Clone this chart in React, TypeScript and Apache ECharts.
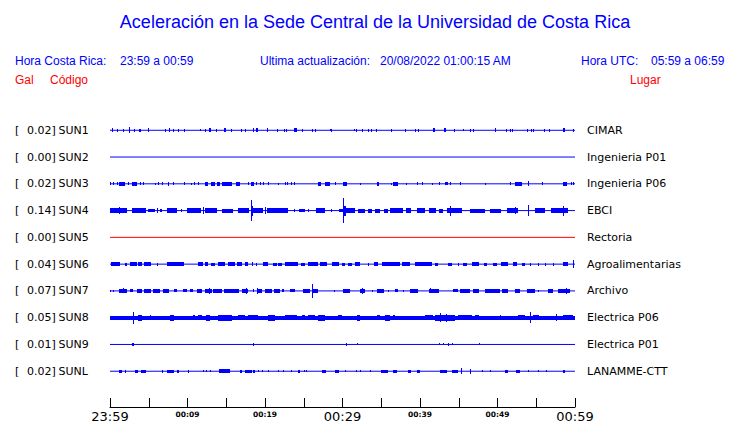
import React, { useEffect, useRef } from 'react';
import * as echarts from 'echarts';

// ---------- data ----------
const STATIONS = ['SUN1', 'SUN2', 'SUN3', 'SUN4', 'SUN5', 'SUN6', 'SUN7', 'SUN8', 'SUN9', 'SUNL'];
const PEAKS = ['0.02', '0.00', '0.02', '0.14', '0.00', '0.04', '0.07', '0.05', '0.01', '0.02'];
const PLACES = ['CIMAR', 'Ingenieria P01', 'Ingenieria P06', 'EBCI', 'Rectoria', 'Agroalimentarias', 'Archivo', 'Electrica P06', 'Electrica P01', 'LANAMME-CTT'];
const TRACE_COLORS = ['#0000ff', '#0000ff', '#0000ff', '#0000ff', '#ff0000', '#0000ff', '#0000ff', '#0000ff', '#0000ff', '#0000ff'];

const TICK_MINUTES = [0, 10, 20, 30, 40, 50, 60];
const TICK_LABELS = ['23:59', '00:09', '00:19', '00:29', '00:39', '00:49', '00:59'];
const MAJOR_TICKS = [0, 30, 60];

// events per station: [start minute, end minute, half amplitude (gal)]
const SUN1_EVENTS = [[0.2,0.4,.015],[0.9,1.0,.012],[1.7,1.8,.01],[2.4,2.5,.028],[3.1,3.2,.012],[3.8,3.95,.012],[4.9,5.05,.015],[7.05,7.15,.012],[7.6,7.75,.015],[8.1,8.25,.012],[8.75,8.9,.012],[9.55,9.65,.012],[11.65,11.75,.008],[12.2,12.3,.012],[12.8,13.05,.015],[13.7,13.8,.012],[14.75,14.95,.015],[15.65,15.75,.01],[16.95,17.05,.01],[17.45,17.55,.01],[18.45,18.55,.015],[18.9,19.1,.015],[20.2,20.45,.017],[21.55,21.65,.012],[22.45,22.55,.012],[22.75,22.85,.012],[23.8,24.15,.017],[24.8,24.9,.012],[26.05,26.15,.012],[26.5,26.6,.012],[28.35,28.45,.008],[28.55,28.65,.012],[31.45,31.55,.008],[31.75,31.85,.012],[32.5,32.6,.012],[33.3,33.4,.012],[33.7,33.8,.012],[34.35,34.45,.012],[36.25,36.35,.01],[38.1,38.2,.012],[39.35,39.45,.012],[39.75,39.85,.012],[41.7,41.95,.017],[43.1,43.3,.017],[44.45,44.55,.012],[45.55,45.65,.008],[46.4,46.55,.012],[46.85,46.95,.01],[49.65,49.8,.015],[51.15,51.25,.012],[51.55,51.65,.012],[51.85,51.95,.012],[53.85,53.95,.012],[54.35,54.45,.01],[54.55,54.7,.012],[55.95,56.05,.012],[56.65,56.75,.012],[58.5,58.7,.015],[59.75,59.85,.012]];
const SUN2_EVENTS: number[][] = [];
const SUN3_EVENTS = [[0.05,0.15,.012],[0.45,0.55,.012],[0.85,0.9,.01],[1.15,1.95,.015],[2.35,2.4,.012],[2.8,3.45,.015],[3.85,3.95,.012],[4.25,4.35,.012],[5.8,5.85,.008],[6.2,6.3,.01],[6.65,6.7,.01],[7.45,7.65,.015],[8.15,8.2,.01],[9.55,9.6,.01],[10.45,10.5,.008],[10.85,10.95,.01],[11.3,11.35,.01],[12.25,12.6,.015],[13.05,13.55,.015],[13.8,14.2,.015],[14.4,15.7,.015],[16.3,16.8,.015],[17.75,17.8,.01],[18.25,18.6,.02],[18.9,19.0,.01],[19.35,19.4,.01],[19.75,19.8,.01],[20.35,20.4,.01],[21.7,21.75,.008],[22.55,22.65,.01],[22.8,22.85,.01],[23.3,23.45,.012],[23.75,23.85,.01],[26.9,27.25,.015],[27.75,28.4,.015],[29.05,29.1,.01],[30.1,30.55,.015],[32.25,32.3,.008],[34.4,34.75,.015],[36.25,36.3,.008],[36.55,37.15,.015],[38.25,38.3,.008],[39.6,39.65,.01],[40.2,40.3,.01],[41.5,41.55,.008],[42.5,42.6,.01],[43.25,43.55,.012],[43.85,43.9,.01],[45.15,45.2,.01],[48.4,48.45,.008],[51.6,51.7,.01],[52.25,53.1,.015],[53.95,54.05,.022],[55.7,55.75,.01],[58.5,58.95,.015],[59.45,59.55,.012],[59.75,59.85,.012]];
const SUN4_EVENTS = [[0,2.25,.019],[1.15,1.2,.03],[2.8,4.7,.019],[4.95,5.8,.015],[6.1,6.2,.02],[6.4,6.7,.015],[7.3,8.6,.019],[9.2,9.3,.012],[9.9,11.8,.019],[12.0,12.1,.035],[12.3,13.8,.019],[14.5,15.9,.017],[16.5,17.9,.019],[18.25,18.35,.11],[18.35,18.5,.05],[18.5,19.8,.019],[20.0,20.1,.03],[20.2,23.0,.019],[23.7,23.8,.015],[24.4,25.1,.015],[25.5,25.6,.012],[26.6,27.75,.019],[28.5,28.6,.015],[29.5,30.0,.015],[30.1,30.2,.13],[30.2,30.4,.05],[30.4,31.6,.019],[32.05,32.9,.017],[33.35,33.8,.017],[34.2,34.85,.017],[35.3,35.9,.017],[36.1,37.8,.019],[38.2,38.9,.019],[39.6,40.6,.019],[41.2,42.0,.019],[42.4,43.0,.017],[43.5,45.4,.019],[43.85,43.95,.05],[46.45,48.4,.017],[49.0,50.5,.017],[51.2,52.7,.019],[52.3,52.4,.03],[53.95,54.05,.06],[54.85,56.1,.019],[56.95,59.1,.019],[58.5,58.6,.05]];
const SUN5_EVENTS: number[][] = [];
const SUN6_EVENTS = [[0.1,1.3,.015],[1.95,2.15,.012],[2.6,3.45,.015],[3.65,4.1,.015],[4.4,5.25,.015],[6.0,6.1,.01],[7.3,9.5,.015],[11.3,12.05,.015],[12.25,12.7,.015],[13.05,13.55,.012],[13.95,14.85,.015],[15.25,16.15,.015],[16.35,17.0,.015],[17.4,17.85,.015],[18.3,18.5,.015],[18.9,19.0,.01],[19.8,20.45,.015],[21.05,21.5,.012],[21.7,22.15,.012],[22.6,24.3,.015],[24.7,25.1,.012],[25.6,26.9,.015],[27.1,28.0,.015],[28.6,29.5,.015],[29.9,30.35,.012],[30.75,31.2,.012],[31.6,32.3,.015],[33.3,33.4,.012],[34.1,34.6,.015],[35.05,37.45,.015],[37.65,38.7,.015],[39.35,41.5,.015],[41.95,42.3,.012],[43.65,44.1,.012],[44.95,45.0,.01],[45.6,46.0,.012],[46.7,47.55,.015],[48.2,48.6,.012],[49.45,49.9,.012],[50.5,51.4,.015],[52.05,52.5,.015],[53.1,53.55,.012],[54.2,54.25,.01],[55.25,55.3,.01],[56.1,56.15,.01],[57.2,57.25,.01],[58.5,59.15,.015],[59.75,59.85,.037]];
const SUN7_EVENTS = [[0.05,0.15,.01],[0.4,0.5,.01],[1.1,2.15,.015],[1.65,1.75,.022],[2.6,3.0,.012],[3.45,4.1,.015],[4.45,5.25,.015],[5.6,6.45,.015],[6.9,7.55,.015],[8.2,8.6,.012],[9.45,9.9,.012],[10.3,10.75,.012],[11.2,11.85,.015],[12.3,13.1,.017],[12.8,12.9,.025],[13.3,14.4,.015],[14.65,16.6,.015],[17.0,17.85,.017],[17.5,17.6,.025],[18.5,18.55,.012],[18.95,19.6,.017],[19.0,19.1,.025],[20.0,20.9,.015],[21.1,21.95,.015],[22.15,22.5,.012],[23.25,23.9,.012],[24.95,25.8,.015],[26.05,26.15,.072],[26.2,26.9,.017],[28.95,29.0,.01],[30.1,30.95,.015],[32.25,32.9,.02],[32.5,32.6,.025],[33.75,33.8,.01],[34.4,35.3,.015],[35.9,35.95,.01],[36.75,37.2,.012],[37.85,37.9,.01],[38.7,39.8,.015],[41.1,42.4,.017],[41.3,41.4,.022],[44.3,44.95,.012],[45.15,46.45,.015],[46.9,47.55,.015],[48.4,50.35,.015],[50.55,51.4,.017],[52.25,52.9,.015],[53.75,54.85,.015],[55.25,55.3,.01],[56.55,57.2,.015],[57.85,59.35,.015],[58.9,59.0,.025]];
const SUN8_EVENTS = [[0,60,.017],[2.95,3.05,.06],[3.66,4.1,.026],[5.1,5.2,.022],[7.75,8.2,.028],[10.75,10.95,.022],[11.4,11.85,.022],[12.45,12.9,.03],[13.95,15.7,.026],[14.5,14.6,.03],[16.55,17.45,.022],[17.85,19.15,.024],[20.4,21.3,.028],[22.55,24.1,.024],[24.75,25.2,.022],[25.6,26.45,.022],[26.9,27.75,.028],[29.45,29.9,.022],[31.85,32.3,.028],[34.4,34.85,.022],[35.5,36.15,.028],[36.55,36.8,.022],[40.6,41.7,.022],[41.9,44.5,.03],[42.6,42.7,.045],[43.3,43.4,.04],[44.95,46.7,.025],[47.1,47.55,.025],[50.3,50.4,.022],[52.7,53.55,.025],[54.15,54.25,.055],[54.6,55.3,.022],[57.6,57.7,.035],[58.5,59.8,.022]];
const SUN9_EVENTS = [[2.85,3.05,.012],[18.45,18.55,.008],[30.45,30.55,.008],[31.9,32.0,.006],[42.45,42.55,.006],[42.95,43.05,.006],[43.55,43.65,.008],[44.15,44.2,.006],[47.65,47.7,.006]];
const SUNL_EVENTS = [[1.1,1.5,.012],[1.9,2.0,.01],[3.2,3.6,.012],[4.0,4.7,.01],[6.65,6.7,.01],[7.3,8.2,.012],[8.6,8.85,.012],[10.1,10.15,.01],[12.0,12.05,.008],[12.45,12.5,.008],[12.9,12.95,.008],[14.0,15.5,.015],[16.75,17.0,.01],[17.4,18.3,.012],[18.5,18.7,.01],[19.15,19.2,.008],[19.55,19.6,.008],[20.4,20.45,.008],[21.7,21.75,.008],[22.35,22.4,.008],[23.4,23.45,.008],[24.3,24.5,.01],[25.05,25.1,.008],[25.35,25.4,.008],[27.3,27.85,.012],[29.05,29.5,.012],[30.3,30.35,.008],[31.8,31.85,.008],[32.25,32.3,.008],[33.55,33.6,.008],[34.95,35.85,.012],[36.55,37.0,.012],[38.4,38.9,.012],[39.55,40.0,.01],[42.55,43.45,.012],[44.1,44.95,.012],[45.3,45.45,.025],[46.4,46.5,.02],[47.95,48.0,.008],[49.0,49.05,.008],[50.95,51.4,.01],[52.45,52.9,.01],[53.95,54.0,.008],[55.25,55.3,.008],[56.3,56.35,.008],[58.45,58.75,.01]];

const EVENTS = [SUN1_EVENTS, SUN2_EVENTS, SUN3_EVENTS, SUN4_EVENTS, SUN5_EVENTS, SUN6_EVENTS, SUN7_EVENTS, SUN8_EVENTS, SUN9_EVENTS, SUNL_EVENTS];

// ---------- chart ----------
const GAIN = 90 / 27; // axis units per gal
const N = STATIONS.length;
const rowValue = (k: number) => N - k;
const BLUE = '#0000ff';
const RED = '#ff0000';

export default function App() {
  const ref = useRef<HTMLDivElement>(null);
  useEffect(() => {
    if (!ref.current) return;
    const chart = echarts.init(ref.current, null, { renderer: 'svg' });

    const baseSeries = STATIONS.map((s, k) => ({
      type: 'line',
      name: s,
      data: [[0, rowValue(k)], [60, rowValue(k)]],
      symbol: 'none',
      silent: true,
      lineStyle: { color: TRACE_COLORS[k], width: 1 },
      z: 2,
    }));

    const eventSeries = STATIONS.map((s, k) => ({
      type: 'custom',
      name: s + '-ev',
      silent: true,
      data: EVENTS[k].map((e) => [e[0], e[1], rowValue(k), e[2]]),
      encode: { x: [0, 1], y: 2 },
      renderItem: (params: any, api: any) => {
        const st = api.value(0), en = api.value(1), v = api.value(2), a = api.value(3);
        const p1 = api.coord([st, v + a * GAIN]);
        const p2 = api.coord([en, v - a * GAIN]);
        const x0 = Math.round(p1[0]);
        const x1 = Math.max(Math.round(p2[0]), x0 + 1);
        const y0 = Math.floor(p1[1]);
        const y1 = Math.ceil(p2[1]);
        return {
          type: 'rect',
          shape: { x: x0, y: y0, width: x1 - x0, height: y1 - y0 },
          style: { fill: TRACE_COLORS[k] },
        };
      },
      z: 3,
    }));

    const headerFont = '12px "Liberation Sans", Arial, sans-serif';
    const txt = (text: string, x: number, y: number, fill: string, font = headerFont, align = 'left') => ({
      type: 'text', x, y, silent: true,
      style: { text, fill, font, align, verticalAlign: 'middle' },
    });

    chart.setOption({
      animation: false,
      backgroundColor: '#ffffff',
      grid: { left: 110, right: 165, top: 103.5, bottom: 22.5, containLabel: false },
      xAxis: {
        type: 'value', min: 0, max: 60, interval: 5, offset: 9,
        axisLine: { show: true, onZero: false, lineStyle: { color: '#000', width: 1 } },
        axisTick: { show: true, inside: true, length: 9, lineStyle: { color: '#000', width: 1 } },
        splitLine: { show: false },
        axisLabel: {
          show: true, margin: 2, showMinLabel: true, showMaxLabel: true, hideOverlap: false,
          formatter: (v: number) => {
            const i = TICK_MINUTES.indexOf(v);
            if (i < 0) return '';
            return MAJOR_TICKS.indexOf(v) >= 0 ? '{big|' + TICK_LABELS[i] + '}' : '{small|' + TICK_LABELS[i] + '}';
          },
          rich: {
            big: { fontFamily: 'DejaVu Sans', fontSize: 13, color: '#000', lineHeight: 15 },
            small: { fontFamily: 'DejaVu Sans', fontSize: 7.5, fontWeight: 'bold', color: '#000', lineHeight: 10 },
          },
        },
      },
      yAxis: [
        {
          type: 'value', min: 0, max: N + 1, interval: 1, position: 'left',
          axisLine: { show: false }, axisTick: { show: false }, splitLine: { show: false },
          axisLabel: {
            margin: 95, align: 'left',
            formatter: (v: number) => {
              if (v < 1 || v > N) return '';
              const k = N - v;
              return '{b|[}{v|' + PEAKS[k] + ']}{s|' + STATIONS[k] + '}';
            },
            rich: {
              b: { fontFamily: 'DejaVu Sans', fontSize: 11, color: '#000', width: 12 },
              v: { fontFamily: 'DejaVu Sans', fontSize: 11, color: '#000', width: 31.5 },
              s: { fontFamily: 'DejaVu Sans', fontSize: 11, color: '#000' },
            },
          },
        },
        {
          type: 'value', min: 0, max: N + 1, interval: 1, position: 'right',
          axisLine: { show: false }, axisTick: { show: false }, splitLine: { show: false },
          axisLabel: {
            margin: 12, align: 'left',
            fontFamily: 'DejaVu Sans', fontSize: 11, color: '#000',
            formatter: (v: number) => (v < 1 || v > N ? '' : PLACES[N - v]),
          },
        },
      ],
      graphic: [
        txt('Aceleración en la Sede Central de la Universidad de Costa Rica', 375, 22, BLUE, '18px "Liberation Sans", Arial, sans-serif', 'center'),
        txt('Hora Costa Rica:', 15, 61, BLUE),
        txt('23:59 a 00:59', 120, 61, BLUE),
        txt('Ultima actualización:', 260, 61, BLUE),
        txt('20/08/2022 01:00:15 AM', 380, 61, BLUE),
        txt('Hora UTC:', 581, 61, BLUE),
        txt('05:59 a 06:59', 651, 61, BLUE),
        txt('Gal', 15, 80, RED),
        txt('Código', 50, 80, RED),
        txt('Lugar', 630, 80, RED),
      ],
      series: [...baseSeries, ...eventSeries],
    });
    return () => chart.dispose();
  }, []);
  return <div ref={ref} style={{ position: 'fixed', left: 0, top: 0, width: 740, height: 423 }} />;
}
